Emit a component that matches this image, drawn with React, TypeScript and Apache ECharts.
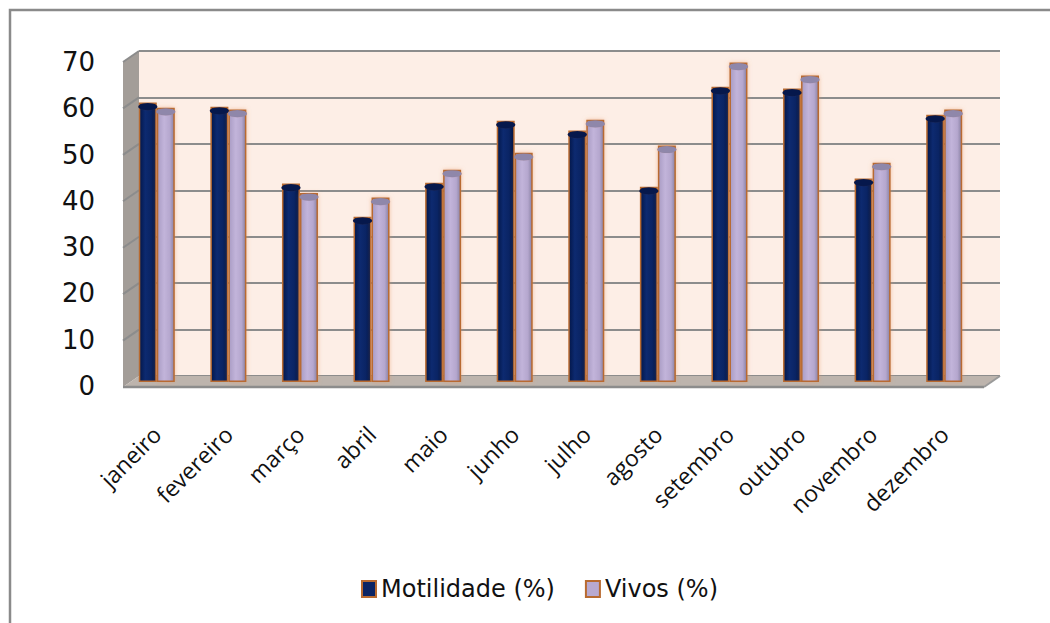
import React, { useEffect, useRef } from "react";
import * as echarts from "echarts";

const months = ["janeiro", "fevereiro", "março", "abril", "maio", "junho", "julho", "agosto", "setembro", "outubro", "novembro", "dezembro"];
const motilidade = [60.0, 59.1, 42.6, 35.5, 42.8, 56.1, 54.0, 41.9, 63.4, 63.0, 43.7, 57.4];
const vivos = [58.9, 58.5, 40.6, 39.6, 45.6, 49.2, 56.3, 50.8, 68.6, 65.8, 47.1, 58.5];
const yTicks = [0, 10, 20, 30, 40, 50, 60, 70];
const seriesNames = ["Motilidade (%)", "Vivos (%)"];

const BW = 18;

export default function App() {
  const ref = useRef<HTMLDivElement>(null);
  useEffect(() => {
    if (!ref.current) return;
    const chart = echarts.init(ref.current, null, { renderer: "svg" });
    const mGrad = new echarts.graphic.LinearGradient(0, 0, 1, 0, [
      { offset: 0, color: "#03174a" },
      { offset: 0.35, color: "#0d2a70" },
      { offset: 0.7, color: "#0a2464" },
      { offset: 1, color: "#021340" },
    ]);
    const vGrad = new echarts.graphic.LinearGradient(0, 0, 1, 0, [
      { offset: 0, color: "#a99cc4" },
      { offset: 0.4, color: "#c2b4da" },
      { offset: 0.75, color: "#b5a7ce" },
      { offset: 1, color: "#8a82a4" },
    ]);
    const orange = "#b86a30";
    const option: any = {
      animation: false,
      backgroundColor: "#ffffff",
      grid: [
        { left: 139, right: 50, top: 51, bottom: 247, show: true, backgroundColor: "#fdeee6", borderWidth: 0 },
        { left: 121, right: 70, top: 56, bottom: 241 },
        { left: 121, right: 70, top: 62, bottom: 237 },
      ],
      xAxis: [
        { gridIndex: 0, type: "category", data: months, show: false },
        {
          gridIndex: 1, type: "category", data: months,
          axisLine: { show: false }, axisTick: { show: false },
          axisLabel: { rotate: 45, margin: 48, fontFamily: "Open Sans", fontSize: 23, color: "#111" },
        },
        { gridIndex: 2, type: "category", data: months, show: false },
      ],
      yAxis: [
        {
          gridIndex: 0, type: "value", min: 0, max: 70, interval: 10,
          axisLine: { show: false }, axisTick: { show: false }, axisLabel: { show: false },
          splitLine: { lineStyle: { color: "#8c8c8c", width: 2 } },
        },
        { gridIndex: 1, type: "value", min: 0, max: 70, interval: 10, show: false },
        {
          gridIndex: 2, type: "value", min: 0, max: 70, interval: 10,
          axisLine: { show: false }, axisTick: { show: false }, splitLine: { show: false },
          axisLabel: { margin: 26, fontFamily: "DejaVu Sans", fontSize: 26, color: "#111",
            formatter: (v: number) => (yTicks.includes(v) ? String(v) : "") },
        },
      ],
      legend: {
        top: 572, left: 356,
        itemWidth: 14, itemHeight: 16, itemGap: 30,
        textStyle: { fontFamily: "DejaVu Sans", fontSize: 24, color: "#111" },
        data: [
          { name: seriesNames[0], icon: "rect", itemStyle: { color: "#0a2464", borderColor: orange, borderWidth: 2 } },
          { name: seriesNames[1], icon: "rect", itemStyle: { color: "#b8a9d0", borderColor: orange, borderWidth: 2 } },
        ],
      },
      series: [
        {
          name: seriesNames[0], type: "bar", xAxisIndex: 1, yAxisIndex: 1, data: motilidade,
          barWidth: BW, barGap: "0%",
          itemStyle: { color: mGrad, borderColor: orange, borderWidth: 1.5 },
        },
        {
          name: seriesNames[1], type: "bar", xAxisIndex: 1, yAxisIndex: 1, data: vivos,
          barWidth: BW, barGap: "0%",
          itemStyle: { color: vGrad, borderColor: orange, borderWidth: 1.5, shadowColor: "rgba(230,150,100,0.55)", shadowBlur: 4 },
        },
        {
          name: "mTop", type: "pictorialBar", xAxisIndex: 1, yAxisIndex: 1, data: motilidade,
          symbol: "circle", symbolSize: [BW + 1, 7], symbolPosition: "end", symbolOffset: [-BW / 2, 0],
          itemStyle: { color: "#06184c", borderColor: orange, borderWidth: 2 }, z: 5,
        },
        {
          name: "vTop", type: "pictorialBar", xAxisIndex: 1, yAxisIndex: 1, data: vivos,
          symbol: "circle", symbolSize: [BW + 1, 7], symbolPosition: "end", symbolOffset: [BW / 2, 0],
          itemStyle: { color: "#8f87aa", borderColor: orange, borderWidth: 2 }, z: 5,
        },
        {
          name: "mBase", type: "pictorialBar", xAxisIndex: 1, yAxisIndex: 1, data: motilidade,
          symbol: "circle", symbolSize: [BW, 6], symbolPosition: "start", symbolOffset: [-BW / 2, 0],
          itemStyle: { color: "#dca27a" }, z: 1,
        },
        {
          name: "vBase", type: "pictorialBar", xAxisIndex: 1, yAxisIndex: 1, data: vivos,
          symbol: "circle", symbolSize: [BW, 6], symbolPosition: "start", symbolOffset: [BW / 2, 0],
          itemStyle: { color: "#dca27a" }, z: 1,
        },
      ],
    };
    chart.setOption(option);

    // 3D decorations derived from the back-wall axis
    const p70 = chart.convertToPixel({ gridIndex: 0 }, [0, 70]) as number[];
    const p0 = chart.convertToPixel({ gridIndex: 0 }, [0, 0]) as number[];
    const gRect = (chart as any).getModel().getComponent("grid", 0).coordinateSystem.getRect();
    const bx = gRect.x, bxr = gRect.x + gRect.width;
    const dx = 16, dy = 11;
    const topY = p70[1], botY = p0[1];
    const sideLines = yTicks.filter((v) => v > 0 && v < 70).map((v) => {
      const p = chart.convertToPixel({ gridIndex: 0 }, [0, v]) as number[];
      return { type: "line", shape: { x1: bx, y1: p[1], x2: bx - dx, y2: p[1] + dy }, style: { stroke: "#8c8c8c", lineWidth: 2 }, z: 1 };
    });
    chart.setOption({
      graphic: [
        { type: "rect", shape: { x: 10, y: 10, width: 1100, height: 700 }, style: { fill: "none", stroke: "#8a8a8a", lineWidth: 2.5 }, z: 0 },
        { type: "polygon", shape: { points: [[bx, topY], [bx, botY], [bx - dx, botY + dy], [bx - dx, topY + dy]] }, style: { fill: "#a39d98" }, z: 0 },
        { type: "line", shape: { x1: bx, y1: topY, x2: bx - dx, y2: topY + dy }, style: { stroke: "#8c8c8c", lineWidth: 2 }, z: 1 },
        ...sideLines,
        { type: "polygon", shape: { points: [[bx, botY], [bxr, botY], [bxr - dx, botY + dy], [bx - dx, botY + dy]] }, style: { fill: "#bdb4ad" }, z: 0 },
        { type: "line", shape: { x1: bx - dx, y1: botY + dy, x2: bxr - dx, y2: botY + dy }, style: { stroke: "#8c8c8c", lineWidth: 2.5 }, z: 1 },
        { type: "line", shape: { x1: bxr - dx, y1: botY + dy, x2: bxr, y2: botY }, style: { stroke: "#9a9a9a", lineWidth: 2 }, z: 1 },
      ],
    });
    return () => chart.dispose();
  }, []);
  return <div ref={ref} style={{ position: "fixed", left: 0, top: 0, width: 1050, height: 623 }} />;
}
